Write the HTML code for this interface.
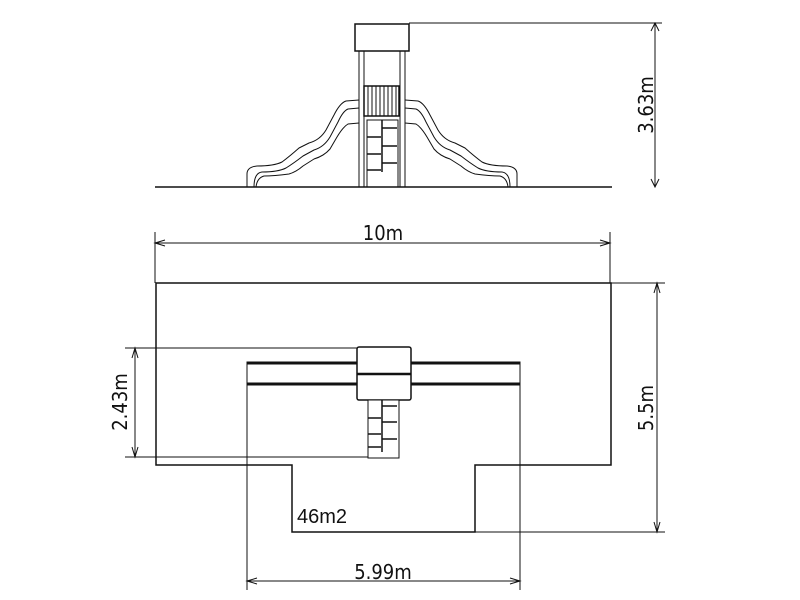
<!DOCTYPE html>
<html><head><meta charset="utf-8"><style>
html,body{margin:0;padding:0;background:#fff;}
svg{display:block;}
text{font-family:"DejaVu Sans Condensed","DejaVu Sans","Liberation Sans",sans-serif;fill:#111;}
</style></head><body>
<svg width="800" height="600" viewBox="0 0 800 600" xmlns="http://www.w3.org/2000/svg">
<defs>
<g id="slide" fill="none" stroke="#111" stroke-width="1" stroke-linejoin="round">
<path d="M405 100 L418 101 Q424 103 430 115 L438 130 Q444 140 455 143 L465 148 Q474 156 482 162 Q490 166 507 166 Q517 167 517 174 V187"/>
<path d="M405 108 L416 109 Q421 111 426 122 L434 137 Q440 147 450 150 L461 156 Q470 163 478 168 Q486 172 502 172 Q510 173 510 187"/>
<path d="M405 123 L416 124 Q421 127 427 137 L434 149 Q440 156 450 159 L461 166 Q468 172 475 174 Q490 176 500 176 Q507 178 508 187"/>
</g>
</defs>
<g stroke="#111" fill="none" stroke-width="1">
<line x1="155" y1="187" x2="612" y2="187" stroke-width="1.5"/>
<line x1="409" y1="23" x2="662" y2="23"/>
<line x1="655" y1="23" x2="655" y2="187"/>
<path d="M651 31 L655 23 L659 31 M651 179 L655 187 L659 179"/>
<rect x="355" y="24" width="54" height="27" stroke-width="1.5"/>
<line x1="359" y1="51" x2="359" y2="187"/><line x1="364" y1="51" x2="364" y2="187"/>
<line x1="400" y1="51" x2="400" y2="187"/><line x1="405" y1="51" x2="405" y2="187"/>
<rect x="364" y="86" width="35" height="30" stroke-width="1.5"/>
<path d="M368 86V116M372 86V116M376 86V116M380 86V116M384 86V116M388 86V116M392 86V116M396 86V116"/>
<rect x="367" y="120" width="31" height="67"/>
<path d="M382 120V172 M367 137H381 M382 128H397 M367 154H381 M382 146H397 M367 170H381 M382 163H397" stroke-width="1.5"/>
</g>
<use href="#slide"/>
<use href="#slide" transform="translate(764,0) scale(-1,1)"/>
<g stroke="#111" fill="none" stroke-width="1">
<line x1="155" y1="232" x2="155" y2="283"/><line x1="610" y1="232" x2="610" y2="283"/>
<line x1="155" y1="243" x2="610" y2="243"/>
<path d="M165 240 L155 243 L165 246 M600 240 L610 243 L600 246"/>
<path d="M156 283 H611 V465 H475 V532 H292 V465 H156 Z" stroke-width="1.5"/>
<line x1="611" y1="283" x2="665" y2="283"/><line x1="475" y1="532" x2="665" y2="532"/>
<line x1="657" y1="283" x2="657" y2="532"/>
<path d="M654 293 L657 283 L660 293 M654 522 L657 532 L660 522"/>
<line x1="125" y1="348" x2="357" y2="348"/><line x1="125" y1="457" x2="368" y2="457"/>
<line x1="135" y1="348" x2="135" y2="457"/>
<path d="M132 358 L135 348 L138 358 M132 447 L135 457 L138 447"/>
<line x1="247" y1="362" x2="247" y2="590"/><line x1="520" y1="362" x2="520" y2="590"/>
<line x1="247" y1="581" x2="520" y2="581"/>
<path d="M257 578 L247 581 L257 584 M510 578 L520 581 L510 584"/>
<rect x="247" y="362" width="273" height="23" fill="#fff"/>
<line x1="247" y1="363" x2="520" y2="363" stroke-width="3"/>
<line x1="247" y1="384" x2="520" y2="384" stroke-width="3"/>
<rect x="357" y="347" width="54" height="53" rx="2" fill="#fff" stroke-width="1.5"/>
<line x1="357" y1="374" x2="411" y2="374" stroke-width="2.5"/>
<rect x="368" y="400" width="31" height="58" fill="#fff"/>
<path d="M382 400V452 M368 418H381 M382 406H397 M368 434H381 M382 422H397 M368 447H381 M382 439H397" stroke-width="1.5"/>
</g>
<text x="383" y="240" font-size="20" text-anchor="middle">10m</text>
<text x="297" y="523" style="font-family:'Liberation Sans',sans-serif;font-size:20px">46m2</text>
<text x="383" y="579" font-size="20" text-anchor="middle">5.99m</text>
<text transform="translate(653,105) rotate(-90)" font-size="20" text-anchor="middle">3.63m</text>
<text transform="translate(653,408) rotate(-90)" font-size="20" text-anchor="middle">5.5m</text>
<text transform="translate(127,402) rotate(-90)" font-size="20" text-anchor="middle">2.43m</text>
</svg>
</body></html>
